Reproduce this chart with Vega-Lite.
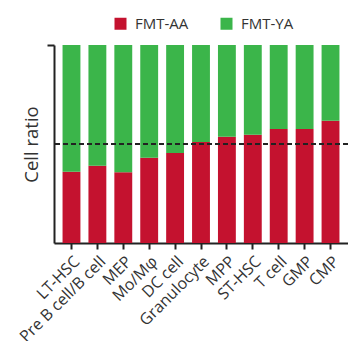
{
  "$schema": "https://vega.github.io/schema/vega-lite/v6.json",
  "width": 294,
  "height": 198,
  "autosize": {"type": "none"},
  "padding": {"left": 54, "top": 45, "right": 0, "bottom": 98},
  "background": "white",
  "config": {
    "view": {"stroke": null},
    "font": "Open Sans",
    "axis": {"labelFont": "Open Sans", "titleFont": "Open Sans", "grid": false},
    "legend": {"labelFont": "Open Sans"}
  },
  "data": {
    "values": [
      {"cell": "LT-HSC", "group": "FMT-AA", "ratio": 0.36},
      {"cell": "LT-HSC", "group": "FMT-YA", "ratio": 0.64},
      {"cell": "Pre B cell/B cell", "group": "FMT-AA", "ratio": 0.39},
      {"cell": "Pre B cell/B cell", "group": "FMT-YA", "ratio": 0.61},
      {"cell": "MEP", "group": "FMT-AA", "ratio": 0.357},
      {"cell": "MEP", "group": "FMT-YA", "ratio": 0.643},
      {"cell": "Mo/Mφ", "group": "FMT-AA", "ratio": 0.43},
      {"cell": "Mo/Mφ", "group": "FMT-YA", "ratio": 0.57},
      {"cell": "DC cell", "group": "FMT-AA", "ratio": 0.454},
      {"cell": "DC cell", "group": "FMT-YA", "ratio": 0.546},
      {"cell": "Granulocyte", "group": "FMT-AA", "ratio": 0.51},
      {"cell": "Granulocyte", "group": "FMT-YA", "ratio": 0.49},
      {"cell": "MPP", "group": "FMT-AA", "ratio": 0.537},
      {"cell": "MPP", "group": "FMT-YA", "ratio": 0.463},
      {"cell": "ST-HSC", "group": "FMT-AA", "ratio": 0.547},
      {"cell": "ST-HSC", "group": "FMT-YA", "ratio": 0.453},
      {"cell": "T cell", "group": "FMT-AA", "ratio": 0.576},
      {"cell": "T cell", "group": "FMT-YA", "ratio": 0.424},
      {"cell": "GMP", "group": "FMT-AA", "ratio": 0.576},
      {"cell": "GMP", "group": "FMT-YA", "ratio": 0.424},
      {"cell": "CMP", "group": "FMT-AA", "ratio": 0.617},
      {"cell": "CMP", "group": "FMT-YA", "ratio": 0.383}
    ]
  },
  "layer": [
    {
      "mark": {"type": "bar"},
      "encoding": {
        "x": {
          "field": "cell",
          "type": "nominal",
          "sort": null,
          "scale": {"paddingInner": 0.31, "paddingOuter": 0.33},
          "axis": {
            "title": null,
            "labelAngle": -45,
            "labelFontSize": 16,
            "labelColor": "#333",
            "domainColor": "#222",
            "domainWidth": 2,
            "tickColor": "#222",
            "tickWidth": 2,
            "tickSize": 6,
            "labelPadding": 4
          }
        },
        "y": {
          "field": "ratio",
          "type": "quantitative",
          "stack": "zero",
          "scale": {"domain": [0, 1], "nice": false},
          "axis": {
            "title": "Cell ratio",
            "titleFontSize": 18.5,
            "titleFontWeight": "normal",
            "titleColor": "#333",
            "titlePadding": 5,
            "values": [1],
            "labels": false,
            "domainColor": "#222",
            "domainWidth": 2,
            "tickColor": "#222",
            "tickWidth": 2,
            "tickSize": 7
          }
        },
        "color": {
          "field": "group",
          "type": "nominal",
          "scale": {"domain": ["FMT-AA", "FMT-YA"], "range": ["#C4122F", "#3BB54A"]},
          "legend": {
            "title": null,
            "orient": "none",
            "direction": "horizontal",
            "legendX": 59,
            "legendY": -29,
            "padding": 0,
            "symbolType": "square",
            "symbolSize": 144,
            "symbolStrokeWidth": 0,
            "labelFontSize": 15,
            "labelColor": "#333",
            "labelOffset": 7,
            "columnPadding": 30
          }
        },
        "order": {"field": "group", "sort": "ascending"}
      }
    },
    {
      "mark": {"type": "rule", "strokeDash": [5, 3], "strokeWidth": 2, "color": "#222"},
      "encoding": {"y": {"datum": 0.5}}
    }
  ]
}
